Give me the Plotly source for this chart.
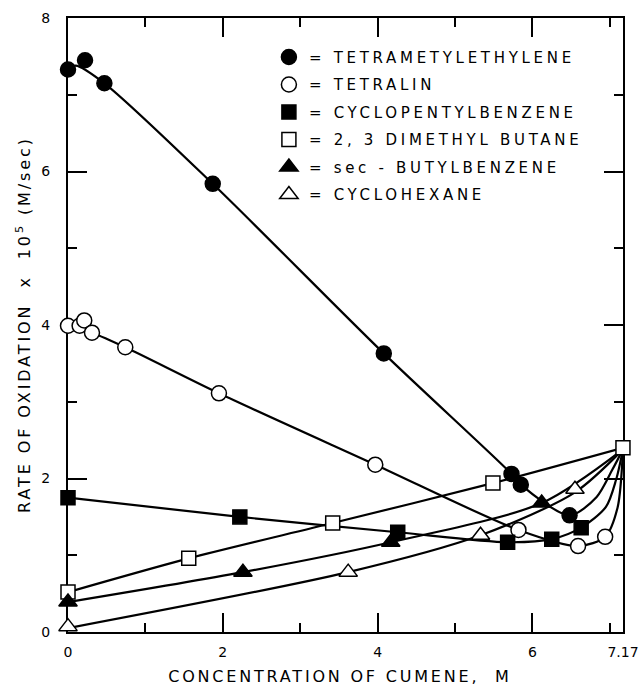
import plotly.graph_objects as go

# ---- data ----
tme_x = [0, 0.22, 0.47, 1.87, 4.08, 5.73, 5.85, 6.48]
tme_y = [7.33, 7.45, 7.15, 5.84, 3.63, 2.06, 1.92, 1.52]
tme_curve_x = [0, 0.1, 0.47, 1.87, 4.08, 5.73, 5.85, 6.48, 6.83, 7.03, 7.17]
tme_curve_y = [7.33, 7.38, 7.15, 5.84, 3.63, 2.06, 1.92, 1.52, 1.76, 2.11, 2.38]

tetralin_x = [0, 0.15, 0.21, 0.31, 0.74, 1.95, 3.97, 5.82, 6.59, 6.94]
tetralin_y = [3.99, 3.99, 4.06, 3.90, 3.71, 3.11, 2.18, 1.33, 1.12, 1.24]
tetralin_curve_x = [0, 0.31, 0.74, 1.95, 3.97, 5.82, 6.59, 6.94, 7.1, 7.17]
tetralin_curve_y = [4.0, 3.90, 3.71, 3.11, 2.18, 1.33, 1.12, 1.24, 1.62, 2.38]

cpb_x = [0, 2.22, 4.26, 5.68, 6.25, 6.63]
cpb_y = [1.75, 1.50, 1.30, 1.17, 1.21, 1.36]
cpb_curve_x = [0, 2.22, 4.26, 5.68, 6.25, 6.63, 6.95, 7.08, 7.17]
cpb_curve_y = [1.75, 1.50, 1.30, 1.17, 1.21, 1.36, 1.63, 1.98, 2.38]

dmb_x = [0, 1.56, 3.42, 5.49, 7.17]
dmb_y = [0.52, 0.96, 1.42, 1.94, 2.40]

sbb_x = [0, 2.26, 4.17, 6.12]
sbb_y = [0.39, 0.78, 1.17, 1.68]
sbb_curve_x = [0, 2.26, 4.17, 6.12, 7.17]
sbb_curve_y = [0.39, 0.78, 1.17, 1.68, 2.38]

ch_x = [0, 3.62, 5.33, 6.55]
ch_y = [0.07, 0.78, 1.26, 1.86]
ch_curve_x = [0, 3.62, 5.33, 6.55, 7.17]
ch_curve_y = [0.05, 0.78, 1.26, 1.82, 2.38]

names = ["TETRAMETYLETHYLENE", "TETRALIN", "CYCLOPENTYLBENZENE",
         "2, 3 DIMETHYL BUTANE", "sec - BUTYLBENZENE", "CYCLOHEXANE"]

x_tickvals = [0, 2, 4, 6, 7.17]
x_ticktext = ["0", "2", "4", "6", "7.17"]
y_tickvals = [0, 2, 4, 6, 8]
y_ticktext = ["0", "2", "4", "6", "8"]

FONT = "DejaVu Sans"
fig = go.Figure()

curves = [(tme_curve_x, tme_curve_y), (tetralin_curve_x, tetralin_curve_y),
          (cpb_curve_x, cpb_curve_y), (dmb_x, dmb_y),
          (sbb_curve_x, sbb_curve_y), (ch_curve_x, ch_curve_y)]
for cx, cy in curves:
    fig.add_trace(go.Scatter(x=cx, y=cy, mode="lines",
                             line=dict(color="black", width=2.2, shape="spline", smoothing=0.8),
                             showlegend=False, hoverinfo="skip", cliponaxis=False))

markers = [
    (tme_x, tme_y, "circle", "black", 15),
    (tetralin_x, tetralin_y, "circle", "white", 15),
    (cpb_x, cpb_y, "square", "black", 14),
    (dmb_x, dmb_y, "square", "white", 14),
    (sbb_x, sbb_y, "triangle-up", "black", 16),
    (ch_x, ch_y, "triangle-up", "white", 16),
]
for i, (mx, my, sym, fill, sz) in enumerate(markers):
    fig.add_trace(go.Scatter(
        x=mx, y=my, mode="markers", name="=\u00a0" + names[i],
        legendgroup=str(i),
        marker=dict(symbol=sym, color=fill, size=sz, line=dict(color="black", width=1.5)),
        cliponaxis=False))

axis_common = dict(
    showgrid=False, zeroline=False, showline=True, linecolor="black", linewidth=2,
    ticks="inside", ticklen=19, tickwidth=1.5, tickcolor="black", mirror="allticks",
    layer="below traces", ticklabeloverflow="allow", automargin=False,
    tickfont=dict(family=FONT, size=14, color="black"),
    minor=dict(ticks="inside", ticklen=9, tickwidth=1.5, tickcolor="black", dtick=1, tick0=0),
)

fig.update_xaxes(range=[0, 7.1705], tickmode="array", tickvals=x_tickvals, ticktext=x_ticktext,
                 ticklabelstandoff=6, **axis_common)
fig.update_yaxes(range=[0, 8.0005], tickmode="array", tickvals=y_tickvals, ticktext=y_ticktext,
                 ticklabelstandoff=13, **axis_common)

fig.update_layout(
    width=639, height=686,
    margin=dict(l=68, r=16, t=18, b=54, autoexpand=False),
    paper_bgcolor="white", plot_bgcolor="white",
    font=dict(family=FONT, size=15, color="black"),
    showlegend=True,
    legend=dict(x=0.362, y=0.963, xanchor="left", yanchor="top",
                bgcolor="rgba(0,0,0,0)", tracegroupgap=5,
                font=dict(family=FONT, size=15, color="black")),
    annotations=[
        dict(text="CONCENTRATION OF CUMENE,  M", xref="paper", yref="paper",
             x=0.49, y=-0.072, xanchor="center", yanchor="middle", showarrow=False,
             font=dict(family=FONT, size=16, color="black")),
        dict(text="RATE OF OXIDATION  x  10<sup>5</sup> (M/sec)", xref="paper", yref="paper",
             x=-0.081, y=0.5, xanchor="center", yanchor="middle", showarrow=False,
             textangle=-90, font=dict(family=FONT, size=16, color="black")),
    ],
)

# widen the lettering like the hand-lettered original (letter spacing only)
post = """
var gd = document.getElementById('{plot_id}');
function spread(){
  gd.querySelectorAll('.legend .scrollbox').forEach(function(e){ e.removeAttribute('clip-path'); });
  gd.querySelectorAll('.legendtext').forEach(function(e){ e.style.letterSpacing = '3.7px'; });
  var ann = gd.querySelectorAll('.annotation-text');
  if (ann.length > 0) { ann[0].style.letterSpacing = '2.8px'; }
  if (ann.length > 1) { ann[1].style.letterSpacing = '2.9px'; }
}
spread();
"""

fig.write_html("out.html", post_script=post)
